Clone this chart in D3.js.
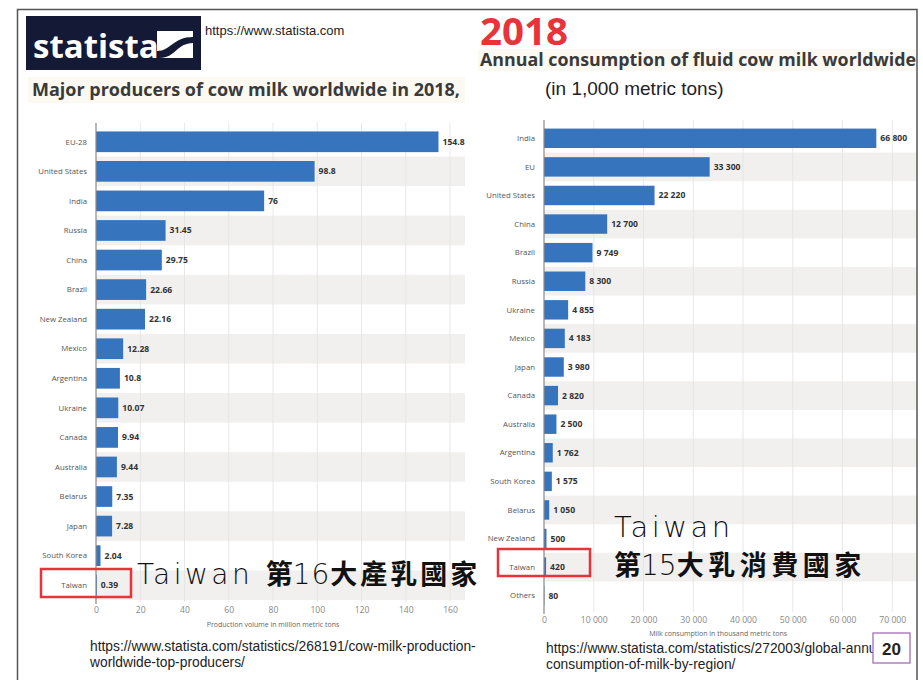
<!DOCTYPE html>
<html>
<head>
<meta charset="utf-8">
<style>
  body { margin: 0; background: white; overflow: hidden; }
  svg { display: block; }
  .cat { font: 7.8px "Open Sans", sans-serif; fill: #555; }
  .val { font: bold 8.6px "Open Sans", sans-serif; fill: #333; }
  .tick text { font: 8.6px "Open Sans", sans-serif; fill: #888; }
  .axis-title { font: 7px "Open Sans", sans-serif; fill: #666; }
  .url { font: 13.8px "Liberation Sans Narrow", "Arial Narrow", Arial, sans-serif; fill: #222; }
  .thin { font-family: "DejaVu Sans ExtraLight", "DejaVu Sans", Lato, sans-serif; font-weight: 200; }
</style>
<script src="https://d3js.org/d3.v7.min.js"></script>
</head>
<body>
<script>
// production of cow milk, million metric tons (2018)
const prodCountries = ["EU-28", "United States", "India", "Russia", "China", "Brazil", "New Zealand",
  "Mexico", "Argentina", "Ukraine", "Canada", "Australia", "Belarus", "Japan", "South Korea", "Taiwan"];
const prodValues = [154.8, 98.8, 76, 31.45, 29.75, 22.66, 22.16, 12.28, 10.8, 10.07, 9.94, 9.44, 7.35, 7.28, 2.04, 0.39];
const prodTicks = [0, 20, 40, 60, 80, 100, 120, 140, 160];

// consumption of fluid cow milk, 1,000 metric tons (2018)
const consCountries = ["India", "EU", "United States", "China", "Brazil", "Russia", "Ukraine", "Mexico",
  "Japan", "Canada", "Australia", "Argentina", "South Korea", "Belarus", "New Zealand", "Taiwan", "Others"];
const consValues = [66800, 33300, 22220, 12700, 9749, 8300, 4855, 4183, 3980, 2820, 2500, 1762, 1575, 1050, 500, 420, 80];
const consTicks = [0, 10000, 20000, 30000, 40000, 50000, 60000, 70000];

const W = 923, H = 680;
const barColor = "#3674be";
const stripe = "#f1f0ef";

const svg = d3.select("body").append("svg").attr("width", W).attr("height", H);

const defs = svg.append("defs");
defs.append("clipPath").attr("id", "frame")
  .append("rect").attr("x", 18).attr("y", 10).attr("width", 899).attr("height", 670);
defs.append("clipPath").attr("id", "urlclip")
  .append("rect").attr("x", 500).attr("y", 630).attr("width", 373).attr("height", 50);

const root = svg.append("g").attr("clip-path", "url(#frame)");

function barChart(g, cats, vals, ticks, opt) {
  const x = d3.scaleLinear().domain(opt.domain).range([opt.x0, opt.x1]);
  const y = d3.scaleBand().domain(cats).range([opt.y0, opt.y1]).paddingInner(opt.pad).paddingOuter(opt.pad / 2);
  const step = y.step();

  // alternating stripes
  g.append("g").selectAll("rect")
    .data(cats.filter((d, i) => i % 2 === 1))
    .join("rect")
    .attr("x", opt.x0).attr("width", opt.stripeEnd - opt.x0)
    .attr("y", d => y(d) + y.bandwidth() / 2 - step / 2)
    .attr("height", step)
    .attr("fill", stripe);

  // gridlines
  g.append("g").selectAll("line")
    .data(ticks.slice(1))
    .join("line")
    .attr("x1", d => x(d)).attr("x2", d => x(d))
    .attr("y1", opt.y0 - 4).attr("y2", opt.y1 + 2)
    .attr("stroke", "#e2e2e2").attr("stroke-width", 0.8);

  g.append("g").selectAll("rect")
    .data(cats)
    .join("rect")
    .attr("x", x(0)).attr("y", d => y(d))
    .attr("width", (d, i) => x(vals[i]) - x(0))
    .attr("height", y.bandwidth())
    .attr("fill", barColor);

  // value axis line
  g.append("line")
    .attr("x1", x(0)).attr("x2", x(0))
    .attr("y1", opt.y0 - 4).attr("y2", opt.y1 + 4)
    .attr("stroke", "#888").attr("stroke-width", 1.2);

  g.append("g").selectAll("text")
    .data(cats)
    .join("text")
    .attr("class", "cat")
    .attr("x", x(0) - 9)
    .attr("y", d => y(d) + y.bandwidth() / 2)
    .attr("dy", "0.35em")
    .attr("text-anchor", "end")
    .text(d => d);

  g.append("g").selectAll("text")
    .data(cats)
    .join("text")
    .attr("class", "val")
    .attr("x", (d, i) => x(vals[i]) + 4)
    .attr("y", d => y(d) + y.bandwidth() / 2)
    .attr("dy", "0.35em")
    .text((d, i) => opt.fmt(vals[i]));

  const axis = g.append("g")
    .attr("transform", `translate(0,${opt.tickY})`)
    .call(d3.axisBottom(x).tickValues(ticks).tickSize(0).tickFormat(opt.tickFmt));
  axis.select(".domain").remove();

  g.append("text")
    .attr("class", "axis-title")
    .attr("x", (x(ticks[0]) + x(ticks[ticks.length - 1])) / 2)
    .attr("y", opt.titleY)
    .attr("text-anchor", "middle")
    .text(opt.title);
}

const spaced = v => d3.format(",")(v).replace(/,/g, " ");

barChart(root.append("g"), prodCountries, prodValues, prodTicks, {
  domain: [0, 160], x0: 96, x1: 450, y0: 127, y1: 600, pad: 0.3, stripeEnd: 465,
  fmt: v => String(v), tickFmt: d => d, tickY: 604, titleY: 627,
  title: "Production volume in million metric tons"
});

barChart(root.append("g"), consCountries, consValues, consTicks, {
  domain: [0, 80000], x0: 544, x1: 942, y0: 124, y1: 610, pad: 0.32, stripeEnd: 917,
  fmt: spaced, tickFmt: spaced, tickY: 614, titleY: 636,
  title: "Milk consumption in thousand metric tons"
});

// statista logo
const logo = root.append("g");
logo.append("rect").attr("x", 26).attr("y", 16).attr("width", 175).attr("height", 54).attr("fill", "#141936");
logo.append("text").attr("x", 33).attr("y", 58)
  .attr("font-family", "Open Sans, sans-serif").attr("font-weight", "bold").attr("font-size", 33)
  .attr("fill", "white").text("statista");
logo.append("rect").attr("x", 157).attr("y", 31).attr("width", 36).attr("height", 27).attr("fill", "white");
logo.append("path")
  .attr("d", "M157,51 C171,51 173,37 193,37 L193,43 C177,43 175,58 160,58 L157,58 Z")
  .attr("fill", "#141936");

root.append("text").attr("x", 205).attr("y", 35)
  .attr("font-family", "Arial, sans-serif").attr("font-size", 13).attr("fill", "#222")
  .text("https://www.statista.com");

// titles
root.append("rect").attr("x", 28).attr("y", 77).attr("width", 437).attr("height", 26).attr("fill", "#fbf9f2");
root.append("text").attr("x", 32).attr("y", 96)
  .attr("font-family", "Open Sans, sans-serif").attr("font-weight", "bold").attr("font-size", 17.5)
  .attr("fill", "#3a3a3a").attr("textLength", 428).attr("lengthAdjust", "spacingAndGlyphs")
  .text("Major producers of cow milk worldwide in 2018,");

root.append("text").attr("x", 480).attr("y", 45)
  .attr("font-family", "Open Sans, sans-serif").attr("font-weight", "bold").attr("font-size", 37)
  .attr("fill", "#e8333a").attr("textLength", 88).attr("lengthAdjust", "spacingAndGlyphs").text("2018");
root.append("rect").attr("x", 478).attr("y", 49).attr("width", 440).attr("height", 22).attr("fill", "#fbf9f2");
root.append("text").attr("x", 480).attr("y", 66)
  .attr("font-family", "Open Sans, sans-serif").attr("font-weight", "bold").attr("font-size", 17.5)
  .attr("fill", "#3a3a3a").attr("textLength", 436).attr("lengthAdjust", "spacingAndGlyphs")
  .text("Annual consumption of fluid cow milk worldwide");
root.append("text").attr("x", 545).attr("y", 95)
  .attr("font-family", "Arial, sans-serif").attr("font-size", 19).attr("fill", "#222")
  .text("(in 1,000 metric tons)");

// Taiwan callouts
const red = "#e8333a";
root.append("rect").attr("x", 41).attr("y", 569).attr("width", 90).attr("height", 28)
  .attr("fill", "none").attr("stroke", red).attr("stroke-width", 2.5);
root.append("rect").attr("x", 498).attr("y", 549).attr("width", 92).attr("height", 27)
  .attr("fill", "none").attr("stroke", red).attr("stroke-width", 2.5);

const cjk = "'Noto Sans CJK TC', 'Noto Sans CJK SC', sans-serif";
const t1 = root.append("text").attr("x", 137).attr("y", 584).attr("fill", "#111");
t1.append("tspan").attr("class", "thin").attr("font-size", 28).attr("letter-spacing", 3.5).text("Taiwan ");
t1.append("tspan").attr("font-family", cjk).attr("font-size", 27).attr("font-weight", "bold").text("第");
t1.append("tspan").attr("class", "thin").attr("font-size", 28).attr("letter-spacing", 1).text("16");
t1.append("tspan").attr("font-family", cjk).attr("font-size", 27).attr("font-weight", "bold")
  .attr("letter-spacing", 3).text("大產乳國家");

root.append("text").attr("class", "thin").attr("x", 614).attr("y", 537).attr("fill", "#111")
  .attr("font-size", 29).attr("letter-spacing", 3.5).text("Taiwan");
const t2 = root.append("text").attr("x", 614).attr("y", 575).attr("fill", "#111");
t2.append("tspan").attr("font-family", cjk).attr("font-size", 27).attr("font-weight", "bold").text("第");
t2.append("tspan").attr("class", "thin").attr("font-size", 28).text("15");
t2.append("tspan").attr("font-family", cjk).attr("font-size", 27).attr("font-weight", "bold")
  .attr("letter-spacing", 4.5).text("大乳消費國家");

// source links
root.append("text").attr("class", "url").attr("x", 90).attr("y", 651)
  .text("https://www.statista.com/statistics/268191/cow-milk-production-");
root.append("text").attr("class", "url").attr("x", 90).attr("y", 667).text("worldwide-top-producers/");
root.append("text").attr("class", "url").attr("x", 546).attr("y", 653).attr("clip-path", "url(#urlclip)")
  .text("https://www.statista.com/statistics/272003/global-annual-");
root.append("text").attr("class", "url").attr("x", 546).attr("y", 669).text("consumption-of-milk-by-region/");

// page number box
root.append("rect").attr("x", 873).attr("y", 633).attr("width", 37).attr("height", 30)
  .attr("fill", "white").attr("stroke", "#9a62b8").attr("stroke-width", 1.2);
root.append("text").attr("x", 891.5).attr("y", 655).attr("text-anchor", "middle")
  .attr("font-family", "Arial, sans-serif").attr("font-weight", "bold").attr("font-size", 17)
  .attr("fill", "#222").text("20");

// slide frame
const frame = svg.append("g").attr("stroke", "#555").attr("stroke-width", 1.5).attr("fill", "none");
frame.append("path").attr("d", "M17.5,680 V9.5 H917 V680");
</script>
</body>
</html>
